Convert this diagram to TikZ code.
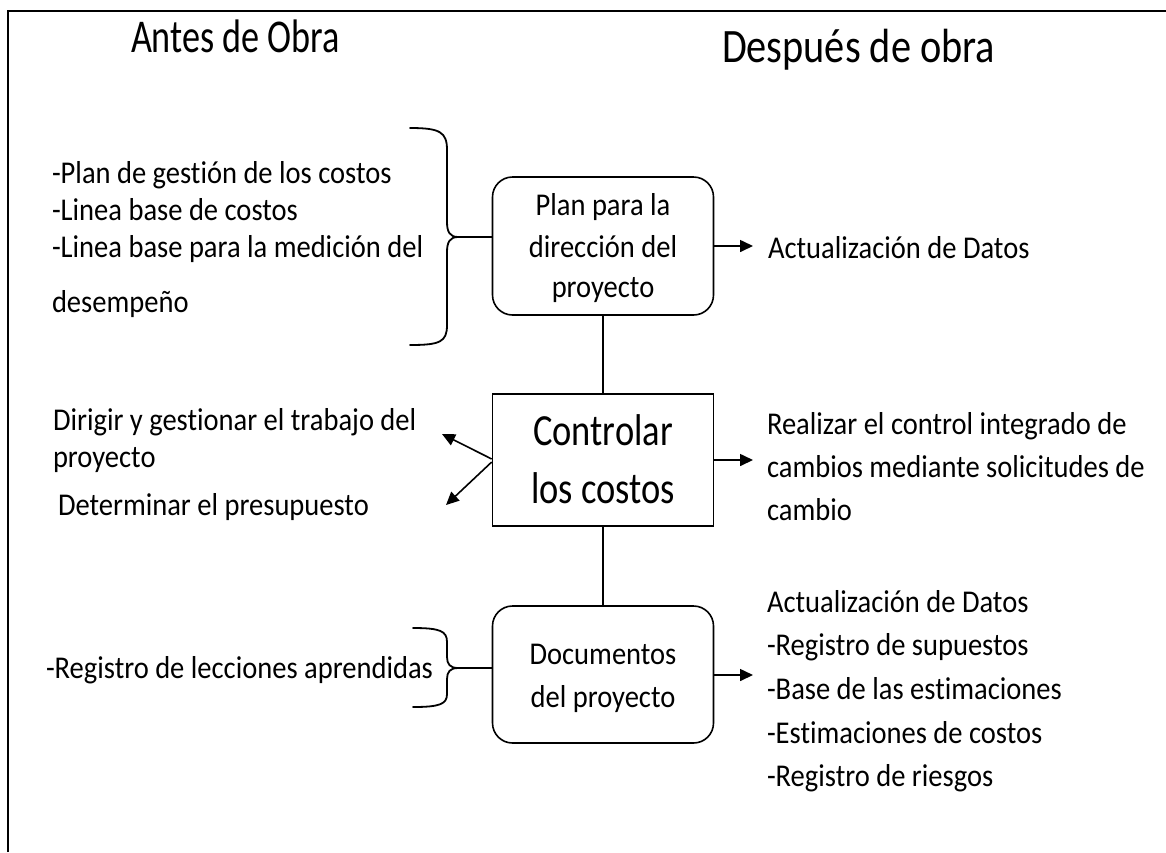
\documentclass[tikz,border=0pt]{standalone}
\usepackage{fontspec}
\setmainfont{Carlito}[FakeStretch=0.9, Ligatures=NoCommon]
\newfontfamily\titlefont{Carlito}[FakeStretch=0.77, Ligatures=NoCommon]
\newfontfamily\despfont{Carlito}[FakeStretch=0.84, Ligatures=NoCommon]
\newfontfamily\ctrlfont{Carlito}[FakeStretch=0.82, Ligatures=NoCommon]
\usetikzlibrary{arrows.meta}
\begin{document}
\begin{tikzpicture}[x=1pt,y=-1pt,
  txt/.style={inner sep=0pt, outer sep=0pt, font=\fontsize{31.7}{37}\selectfont},
  ttl/.style={inner sep=0pt, outer sep=0pt, font=\titlefont\fontsize{47}{56}\selectfont},
  dsp/.style={inner sep=0pt, outer sep=0pt, font=\despfont\fontsize{48}{56}\selectfont},
  ctl/.style={inner sep=0pt, outer sep=0pt, font=\ctrlfont\fontsize{44.5}{52}\selectfont},
  rbox/.style={draw, line width=1.6pt, rounded corners=20pt, minimum width=221pt, minimum height=138pt, inner sep=0pt},
  sbox/.style={draw, line width=1.6pt, minimum width=221pt, minimum height=132pt, inner sep=0pt},
  conn/.style={line width=1.6pt},
  arr/.style={line width=1.6pt, -{Triangle[length=13pt,width=12pt]}},
  brc/.style={line width=1.8pt, line cap=round, line join=round}]
\useasboundingbox (0,0) rectangle (1166,852);
\fill[white] (0,0) rectangle (1166,852);
% frame
\draw[line width=1.6pt] (8,852) -- (8,11) -- (1166,11);
% titles
\node[ttl, anchor=base west] (antes) at (131,52) {Antes de Obra};
\node[dsp, anchor=base west] (despues) at (722,62) {Después de obra};
% boxes
\node[rbox] (plan) at (603,246) {};
\node[sbox] (ctrl) at (603,460) {};
\node[rbox, minimum height=137pt] (docs) at (603,674.5) {};
% box texts
\node[txt, anchor=base] (p1) at (603,215) {Plan para la};
\node[txt, anchor=base] (p2) at (603,257) {dirección del};
\node[txt, anchor=base] (p3) at (603,297) {proyecto};
\node[ctl, anchor=base] (c1) at (603,445) {Controlar};
\node[ctl, anchor=base] (c2) at (603,503) {los costos};
\node[txt, anchor=base] (d1) at (603,664) {Documentos};
\node[txt, anchor=base] (d2) at (603,707) {del proyecto};
% left top block
\node[txt, anchor=base west] (l1) at (52,183) {-Plan de gestión de los costos};
\node[txt, anchor=base west] (l2) at (52,220) {-Linea base de costos};
\node[txt, anchor=base west] (l3) at (52,257) {-Linea base para la medición del};
\node[txt, anchor=base west] (l4) at (52,312) {desempeño};
% left middle
\node[txt, anchor=base west] (m1) at (53,430) {Dirigir y gestionar el trabajo del};
\node[txt, anchor=base west] (m2) at (53,467) {proyecto};
\node[txt, anchor=base west] (m3) at (58,515) {Determinar el presupuesto};
% left bottom
\node[txt, anchor=base west] (b1) at (46,678) {-Registro de lecciones aprendidas};
% right texts
\node[txt, anchor=base west] (r1) at (768,258) {Actualización de Datos};
\node[txt, anchor=base west] (s1) at (767,434) {Realizar el control integrado de};
\node[txt, anchor=base west] (s2) at (767,477) {cambios mediante solicitudes de};
\node[txt, anchor=base west] (s3) at (767,520) {cambio};
\node[txt, anchor=base west] (u1) at (767,612) {Actualización de Datos};
\node[txt, anchor=base west] (u2) at (767,655) {-Registro de supuestos};
\node[txt, anchor=base west] (u3) at (767,699) {-Base de las estimaciones};
\node[txt, anchor=base west] (u4) at (767,743) {-Estimaciones de costos};
\node[txt, anchor=base west] (u5) at (767,786) {-Registro de riesgos};
% vertical connectors
\draw[conn] (plan.south) -- (ctrl.north);
\draw[conn] (ctrl.south) -- (docs.north);
% right arrows
\draw[arr, shorten >=15pt] (plan.east) -- (plan.east -| r1.west);
\draw[arr, shorten >=14pt] (ctrl.east) -- (ctrl.east -| s1.west);
\draw[arr, shorten >=14pt] ([yshift=-0.5pt]docs.east) -- ([yshift=-0.5pt]docs.east -| u1.west);
% left arrows
\coordinate (t1) at (442,434);
\coordinate (t2) at (446,505);
\draw[arr] ([yshift=1pt]ctrl.west) -- (t1);
\draw[arr] ([yshift=-2pt]ctrl.west) -- (t2);
% top brace
\coordinate (bt1) at (458,237);
\draw[brc] (410,128) .. controls (440,128) and (447,132) .. (447,150) -- (447,222)
  .. controls (447,232) and (450,237) .. (bt1)
  .. controls (450,237) and (447,242) .. (447,252) -- (447,325)
  .. controls (447,342) and (440,345) .. (410,345);
\draw[conn] (bt1) -- (bt1 -| plan.west);
% bottom brace
\coordinate (bt2) at (458,668);
\draw[brc] (413,628) .. controls (440,628) and (447,631) .. (447,642) -- (447,657)
  .. controls (447,664) and (450,668) .. (bt2)
  .. controls (450,668) and (447,672) .. (447,679) -- (447,694)
  .. controls (447,704) and (440,707) .. (413,707);
\draw[conn] (bt2) -- (bt2 -| docs.west);
\end{tikzpicture}
\end{document}
